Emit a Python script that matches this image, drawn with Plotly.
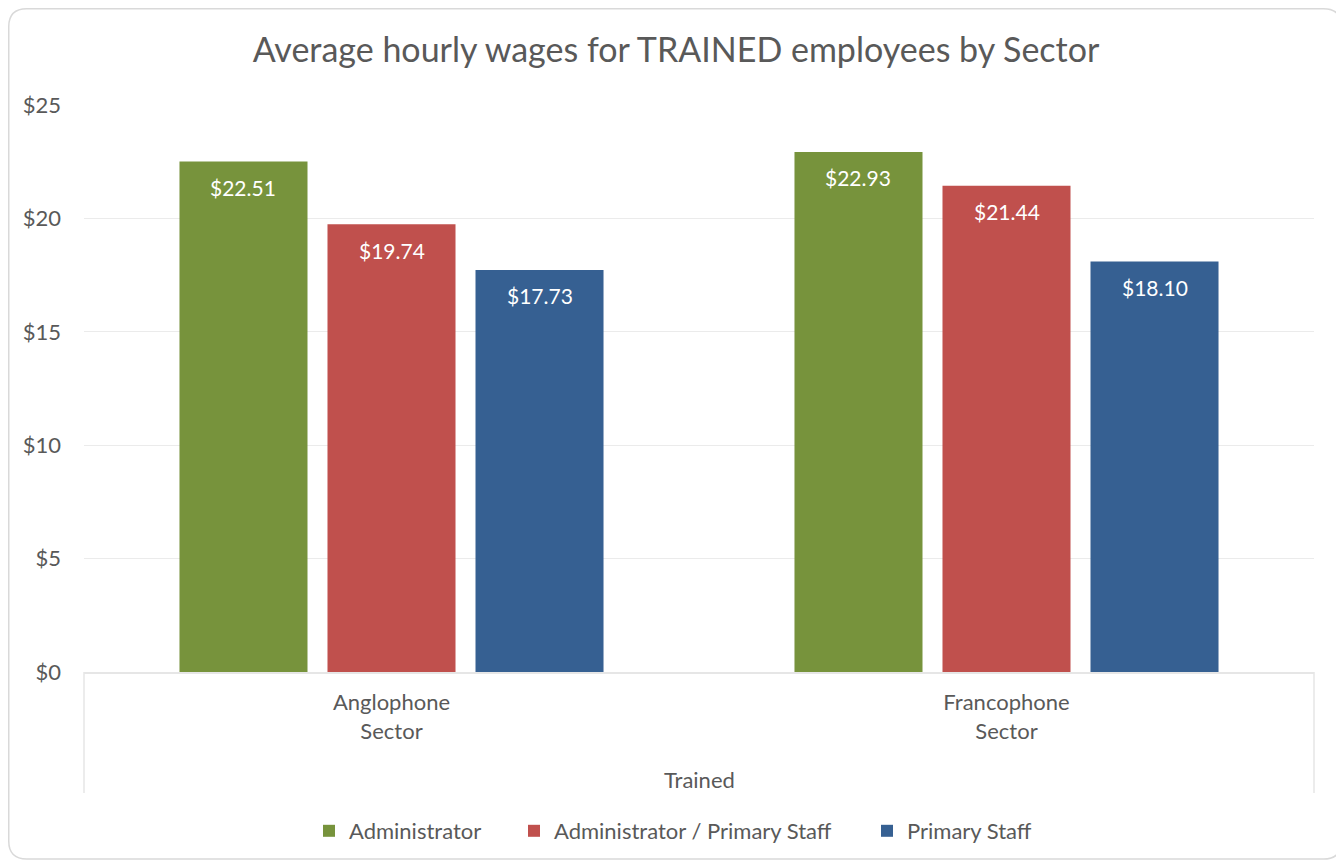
import plotly.graph_objects as go

categories = ["Anglophone<br>Sector", "Francophone<br>Sector"]
series_names = ["Administrator", "Administrator / Primary Staff", "Primary Staff"]
admin = [22.51, 22.93]
admin_primary = [19.74, 21.44]
primary = [17.73, 18.10]
series_values = [admin, admin_primary, primary]
colors = ["#77933C", "#C0504D", "#366092"]
x_title = "Trained"
chart_title = "Average hourly wages for TRAINED employees by Sector"

# page has an 8px body margin; work in page coordinates and subtract it
OFF = 8
PAGE_W, PAGE_H = 1344, 863
W, H = PAGE_W - OFF, PAGE_H - OFF
PL, PR, PT, PB = 84, 1314, 105, 672          # plot area in page pixels
L, R, T, B = PL - OFF, W - (PR - OFF), PT - OFF, H - (PB - OFF)
PW, PH = PR - PL, PB - PT
FONT = "Lato, Open Sans, sans-serif"
TXT = "#595959"

def px(x):
    return (x - PL) / PW

def py(y):
    return (PB - y) / PH

BARGAP = 0.278
GROUPGAP = 0.135

fig = go.Figure()
legend_widths = [160, 308, None]
for name, vals, col, lw in zip(series_names, series_values, colors, legend_widths):
    kw = {}
    if lw:
        kw["legendwidth"] = lw
    fig.add_trace(go.Bar(
        x=categories, y=vals, name=name,
        marker=dict(color=col, line=dict(width=0)), **kw,
    ))

# data labels placed just inside the top of each bar
n = len(series_names)
gw = 1 - BARGAP
slot = gw / n
annotations = []
for i, vals in enumerate(series_values):
    off = -gw / 2 + slot * (i + 0.5)
    for j, v in enumerate(vals):
        annotations.append(dict(
            x=j + off, y=v, xref="x", yref="y", text=f"${v:.2f}",
            showarrow=False, yanchor="middle", yshift=-26,
            font=dict(family=FONT, size=21, color="white"),
        ))

annotations.append(dict(
    x=0.5, y=py(779), xref="paper", yref="paper", text=x_title,
    showarrow=False, yanchor="middle", xanchor="center",
    font=dict(family=FONT, size=22, color=TXT),
))

# rounded chart border (page coordinates)
x0, x1, y0, y1, r = 8.75, 1341.5, 8.75, 859, 18
def pt(x, y):
    return f"{px(x):.5f},{py(y):.5f}"
path = (f"M {pt(x0 + r, y0)} L {pt(x1 - r, y0)} Q {pt(x1, y0)} {pt(x1, y0 + r)} "
        f"L {pt(x1, y1 - r)} Q {pt(x1, y1)} {pt(x1 - r, y1)} "
        f"L {pt(x0 + r, y1)} Q {pt(x0, y1)} {pt(x0, y1 - r)} "
        f"L {pt(x0, y0 + r)} Q {pt(x0, y0)} {pt(x0 + r, y0)} Z")

shapes = [
    dict(type="path", path=path, xref="paper", yref="paper",
         line=dict(color="#d9d9d9", width=1.5), layer="below"),
    dict(type="line", xref="paper", yref="paper", x0=0, x1=0, y0=0, y1=py(793),
         line=dict(color="#e6e6e6", width=1.5)),
    dict(type="line", xref="paper", yref="paper", x0=1, x1=1, y0=0, y1=py(793),
         line=dict(color="#e6e6e6", width=1.5)),
]

fig.update_layout(
    width=W, height=H, autosize=False,
    margin=dict(l=L, r=R, t=T, b=B),
    paper_bgcolor="white", plot_bgcolor="white",
    barmode="group", bargap=BARGAP, bargroupgap=GROUPGAP,
    title=dict(text=chart_title, x=0.5, xref="container", xanchor="center",
               y=1 - (50 - OFF) / H, yanchor="middle",
               font=dict(family=FONT, size=34, color=TXT)),
    font=dict(family=FONT, color=TXT),
    xaxis=dict(showline=True, linecolor="#e6e6e6", linewidth=1.5, ticks="",
               tickfont=dict(family=FONT, size=22, color=TXT),
               ticklabelstandoff=10, showgrid=False),
    yaxis=dict(range=[0, 25], dtick=5, tickprefix="$", showline=False,
               zeroline=False, gridcolor="#ebebeb", gridwidth=1, ticks="",
               tickfont=dict(family=FONT, size=22, color=TXT),
               ticklabelstandoff=22),
    legend=dict(orientation="h", xref="container", yref="container",
                x=(323 - OFF - 14) / W, xanchor="left",
                y=1 - (831 - OFF) / H, yanchor="middle",
                font=dict(family=FONT, size=22, color=TXT),
                itemwidth=30, traceorder="normal"),
    annotations=annotations, shapes=shapes,
    showlegend=True,
)

fig.write_html("out.html")
